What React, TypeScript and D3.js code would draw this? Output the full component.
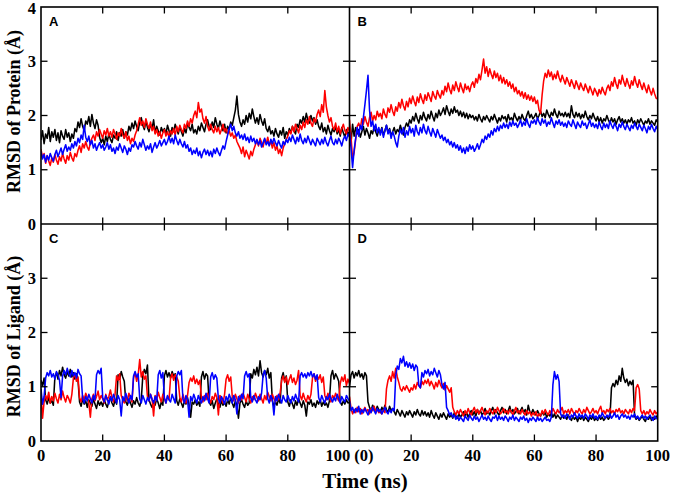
import React from "react";
import * as d3 from "d3";

const timeNs: number[] = d3.range(0, 100.25, 0.5);

const protA_black = [
1.55,1.72,1.48,1.66,1.58,1.78,1.52,1.70,1.60,1.74,
1.54,1.68,1.50,1.72,1.62,1.56,1.74,1.60,1.68,1.52,
1.66,1.58,1.76,1.70,1.88,1.78,1.94,1.80,1.72,1.90,
1.84,1.98,1.80,2.02,1.86,1.76,1.92,1.82,1.60,1.50,
1.58,1.46,1.62,1.52,1.66,1.56,1.50,1.64,1.58,1.70,
1.54,1.68,1.62,1.74,1.58,1.70,1.64,1.80,1.72,1.86,
1.76,1.90,1.80,1.72,1.88,1.96,1.82,1.74,1.90,1.78,
1.70,1.84,1.76,1.92,1.68,1.80,1.72,1.64,1.78,1.70,
1.76,1.66,1.82,1.72,1.62,1.78,1.70,1.84,1.74,1.66,
1.80,1.70,1.62,1.76,1.68,1.86,1.78,1.72,1.84,1.68,
1.74,1.66,1.80,1.72,1.86,1.78,1.70,1.84,1.92,1.80,
1.74,1.88,1.78,1.96,1.84,1.76,1.90,1.80,1.72,1.84,
1.68,1.80,1.74,1.88,1.82,1.96,2.10,2.36,2.02,1.88,
1.80,1.92,1.84,2.00,1.88,2.04,1.94,2.12,1.98,1.86,
1.96,1.84,2.02,1.90,1.82,1.94,1.76,1.70,1.80,1.66,
1.72,1.62,1.76,1.66,1.60,1.72,1.64,1.78,1.58,1.70,
1.64,1.76,1.68,1.80,1.72,1.66,1.84,1.78,1.92,1.86,
1.98,1.88,2.04,1.92,1.86,2.00,1.90,1.96,1.84,1.92,
1.80,1.74,1.86,1.70,1.78,1.66,1.82,1.72,1.64,1.76,
1.70,1.80,1.66,1.74,1.62,1.78,1.68,1.60,1.74,1.66,1.70];
const protA_red = [
1.38,1.22,1.30,1.12,1.26,1.16,1.08,1.22,1.14,1.28,
1.18,1.10,1.24,1.16,1.30,1.20,1.12,1.26,1.18,1.32,
1.22,1.16,1.30,1.24,1.36,1.44,1.32,1.48,1.40,1.52,
1.42,1.36,1.50,1.58,1.64,1.54,1.70,1.62,1.74,1.66,
1.58,1.72,1.64,1.76,1.62,1.70,1.60,1.74,1.66,1.56,
1.68,1.62,1.76,1.64,1.58,1.70,1.54,1.62,1.48,1.58,
1.52,1.64,1.72,1.84,1.96,1.82,1.90,1.78,1.94,1.84,
1.76,1.88,1.72,1.80,1.66,1.74,1.62,1.70,1.58,1.68,
1.74,1.62,1.70,1.60,1.72,1.66,1.76,1.64,1.80,1.70,
1.82,1.74,1.68,1.84,1.76,1.90,1.80,1.94,1.86,2.00,
2.08,1.96,2.24,2.06,2.12,1.94,1.86,1.98,1.80,1.72,
1.84,1.74,1.68,1.80,1.70,1.78,1.66,1.74,1.84,1.70,
1.76,1.66,1.72,1.62,1.68,1.58,1.64,1.52,1.46,1.40,
1.30,1.42,1.24,1.36,1.28,1.20,1.34,1.26,1.38,1.46,
1.54,1.44,1.58,1.50,1.42,1.56,1.48,1.60,1.46,1.52,
1.40,1.50,1.36,1.44,1.30,1.38,1.26,1.40,1.48,1.56,
1.62,1.72,1.66,1.80,1.70,1.84,1.76,1.68,1.82,1.74,
1.88,1.78,1.92,1.84,1.98,1.86,1.80,1.94,1.88,2.02,
2.10,1.98,2.20,2.06,2.46,2.16,2.00,1.88,1.96,1.80,
1.74,1.86,1.70,1.80,1.66,1.76,1.84,1.72,1.66,1.78,1.70];
const protA_blue = [
1.34,1.20,1.28,1.14,1.26,1.18,1.30,1.22,1.16,1.28,
1.36,1.24,1.32,1.40,1.28,1.38,1.46,1.34,1.42,1.36,
1.48,1.40,1.52,1.44,1.58,1.50,1.64,1.56,1.82,1.60,
1.52,1.62,1.46,1.54,1.40,1.48,1.36,1.44,1.50,1.40,
1.46,1.36,1.42,1.50,1.38,1.46,1.34,1.40,1.30,1.42,
1.36,1.48,1.40,1.32,1.44,1.38,1.28,1.40,1.34,1.46,
1.42,1.52,1.44,1.38,1.50,1.42,1.56,1.46,1.36,1.44,
1.38,1.48,1.32,1.42,1.50,1.40,1.46,1.54,1.44,1.50,
1.56,1.46,1.52,1.62,1.50,1.58,1.48,1.64,1.54,1.46,
1.56,1.48,1.42,1.52,1.40,1.46,1.34,1.40,1.28,1.36,
1.30,1.40,1.26,1.34,1.22,1.32,1.38,1.28,1.36,1.26,
1.34,1.24,1.38,1.30,1.40,1.32,1.26,1.36,1.44,1.38,
1.52,1.64,1.76,1.84,1.72,1.80,1.68,1.62,1.70,1.58,
1.64,1.56,1.66,1.54,1.60,1.50,1.62,1.52,1.58,1.48,
1.56,1.46,1.54,1.42,1.50,1.58,1.46,1.52,1.44,1.56,
1.48,1.58,1.50,1.44,1.54,1.46,1.40,1.52,1.46,1.56,
1.50,1.60,1.52,1.64,1.56,1.48,1.60,1.52,1.66,1.54,
1.48,1.58,1.50,1.62,1.54,1.46,1.56,1.50,1.44,1.58,
1.52,1.46,1.56,1.48,1.60,1.50,1.44,1.54,1.62,1.50,
1.46,1.56,1.48,1.58,1.52,1.44,1.56,1.62,1.54,1.66,1.60];

const protB_black = [
1.72,1.50,1.84,1.62,1.78,1.66,1.74,1.60,1.70,1.80,
1.64,1.76,1.68,1.58,1.72,1.66,1.80,1.70,1.62,1.74,
1.68,1.78,1.64,1.72,1.82,1.68,1.76,1.62,1.70,1.78,
1.66,1.74,1.70,1.82,1.72,1.64,1.78,1.86,1.80,1.92,
1.86,1.98,1.90,2.04,1.94,1.86,2.00,1.92,2.06,1.96,
1.90,2.02,1.94,2.08,1.98,1.90,2.04,1.96,2.10,2.00,
2.06,2.14,2.02,2.18,2.08,2.00,2.12,2.04,2.16,2.06,
2.10,2.00,2.08,1.98,2.06,1.96,2.04,1.94,2.02,1.96,
2.00,1.92,1.98,1.90,2.02,1.94,1.88,1.98,1.92,2.00,
1.94,1.88,1.98,1.92,2.02,1.94,1.86,1.96,1.90,2.00,
1.94,1.98,1.88,2.02,1.92,1.96,1.90,2.04,1.96,1.90,
1.98,1.92,2.02,1.94,1.90,2.00,2.08,1.96,2.02,1.94,
1.98,2.04,1.94,2.00,2.08,1.98,2.04,1.96,2.10,2.02,
1.96,2.06,2.00,2.12,2.02,1.96,2.08,2.00,2.04,1.98,
2.06,1.98,2.04,1.96,2.18,2.02,1.96,2.06,1.98,2.04,
1.94,2.02,1.96,2.08,1.98,1.92,2.00,1.94,2.04,1.96,
1.90,1.98,1.88,1.96,1.86,1.94,1.90,2.00,1.92,1.86,
1.96,1.88,1.94,1.84,1.92,1.98,1.88,1.94,1.86,1.92,
1.84,1.92,1.88,1.96,1.86,1.90,1.82,1.92,1.86,1.94,
1.88,1.82,1.90,1.86,1.94,1.84,1.90,1.86,1.82,1.92,1.88];
const protB_red = [
1.92,1.60,1.20,1.32,1.56,1.80,1.86,1.76,1.94,1.84,
1.98,1.88,1.80,1.96,2.06,1.90,2.00,1.92,2.08,1.98,
2.04,1.94,2.12,2.02,1.96,2.14,2.06,2.20,2.08,2.00,
2.16,2.08,2.24,2.14,2.30,2.18,2.10,2.26,2.16,2.32,
2.22,2.36,2.26,2.18,2.34,2.24,2.40,2.30,2.22,2.38,
2.28,2.42,2.34,2.26,2.44,2.36,2.30,2.46,2.38,2.32,
2.46,2.38,2.54,2.44,2.60,2.48,2.40,2.56,2.46,2.62,
2.52,2.44,2.60,2.50,2.42,2.58,2.48,2.54,2.44,2.56,
2.62,2.52,2.68,2.60,2.76,2.66,2.84,3.04,2.78,2.90,
2.72,2.86,2.76,2.68,2.82,2.70,2.78,2.64,2.74,2.60,
2.70,2.58,2.66,2.54,2.62,2.50,2.58,2.44,2.52,2.40,
2.46,2.36,2.44,2.32,2.42,2.30,2.38,2.28,2.36,2.26,
2.34,2.22,2.28,2.10,2.04,2.38,2.64,2.78,2.70,2.84,
2.72,2.80,2.66,2.76,2.68,2.82,2.70,2.62,2.74,2.66,
2.58,2.70,2.62,2.54,2.66,2.58,2.50,2.64,2.56,2.48,
2.60,2.52,2.46,2.58,2.50,2.42,2.54,2.46,2.38,2.50,
2.44,2.36,2.48,2.40,2.52,2.44,2.38,2.50,2.56,2.46,
2.62,2.54,2.70,2.58,2.50,2.66,2.58,2.74,2.62,2.54,
2.68,2.58,2.50,2.64,2.56,2.72,2.60,2.52,2.66,2.56,
2.48,2.60,2.50,2.42,2.56,2.46,2.38,2.50,2.40,2.32,2.30];
const protB_blue = [
1.70,1.40,1.04,1.36,1.58,1.78,1.62,1.82,1.74,1.96,
2.20,2.46,2.74,2.10,1.80,1.90,1.72,1.84,1.68,1.78,
1.64,1.76,1.60,1.72,1.82,1.66,1.74,1.58,1.70,1.62,
1.50,1.42,1.62,1.74,1.66,1.78,1.60,1.72,1.64,1.80,
1.68,1.76,1.62,1.82,1.70,1.64,1.78,1.68,1.84,1.72,
1.66,1.80,1.70,1.62,1.76,1.68,1.60,1.74,1.66,1.58,
1.64,1.54,1.60,1.50,1.56,1.46,1.52,1.42,1.50,1.40,
1.46,1.36,1.44,1.32,1.40,1.30,1.42,1.34,1.46,1.38,
1.44,1.34,1.40,1.48,1.38,1.46,1.56,1.50,1.62,1.56,
1.66,1.60,1.72,1.64,1.76,1.70,1.80,1.72,1.82,1.76,
1.86,1.78,1.84,1.76,1.88,1.80,1.90,1.82,1.86,1.78,
1.84,1.92,1.80,1.88,1.82,1.94,1.84,1.78,1.90,1.86,
1.92,1.84,1.96,1.88,1.82,1.94,1.86,1.92,1.80,1.88,
1.84,1.96,1.86,1.78,1.90,1.84,1.92,1.82,1.88,1.80,
1.86,1.78,1.90,1.84,1.80,1.92,1.84,1.76,1.88,1.82,
1.78,1.90,1.82,1.86,1.76,1.84,1.92,1.80,1.86,1.78,
1.84,1.76,1.88,1.80,1.74,1.86,1.78,1.84,1.76,1.90,
1.82,1.76,1.86,1.80,1.72,1.84,1.78,1.88,1.80,1.74,
1.84,1.78,1.72,1.82,1.76,1.86,1.80,1.74,1.84,1.78,
1.72,1.82,1.76,1.68,1.80,1.74,1.84,1.76,1.70,1.80,1.74];

const ligC_black = [
1.12,1.02,1.16,0.76,0.68,0.80,0.70,0.74,0.66,1.18,
1.26,1.14,1.30,1.20,1.36,1.22,1.16,1.28,1.20,1.32,
1.18,1.26,1.14,1.24,1.12,0.72,0.64,0.78,0.68,0.74,
0.62,0.76,0.70,0.64,0.78,0.68,0.60,0.74,0.66,0.72,
0.64,0.76,0.68,0.62,0.74,0.80,0.70,0.64,0.76,0.68,
1.22,1.14,1.28,1.18,1.10,0.72,0.66,0.78,0.70,0.62,
0.74,0.68,0.80,0.70,0.64,0.76,1.20,1.32,1.24,1.40,
0.76,0.68,0.62,0.74,0.66,0.78,0.70,0.60,0.72,0.66,
1.20,1.30,1.18,1.26,1.16,1.28,1.20,1.24,0.74,0.66,
0.78,0.70,0.62,0.74,0.68,0.80,0.66,0.44,0.72,0.68,
0.76,0.66,0.72,0.64,1.18,1.28,1.14,1.24,1.20,0.72,
0.66,0.74,0.60,0.70,0.78,0.68,0.62,0.74,0.66,0.72,
0.64,0.76,0.68,0.80,0.70,0.62,0.74,0.66,0.42,0.70,
0.76,0.68,0.62,0.74,0.66,0.70,1.24,1.16,1.32,1.22,
1.36,1.20,1.48,1.26,1.18,1.30,1.22,1.34,1.16,1.26,
0.74,0.64,0.72,0.66,0.78,0.70,1.16,1.26,1.10,1.20,
0.72,0.64,0.76,0.68,0.60,0.74,0.66,0.78,0.70,0.62,
0.74,0.66,0.46,0.72,0.68,0.76,0.64,0.70,0.62,0.74,
0.68,0.76,0.64,0.72,0.66,0.70,0.62,0.74,1.20,1.30,
1.14,1.24,1.18,1.10,0.72,0.66,0.74,0.68,0.76,0.70,0.72];
const ligC_red = [
0.88,0.42,0.72,0.84,0.76,0.90,0.70,0.82,0.74,0.88,
0.78,0.70,0.86,0.76,0.92,0.80,0.72,0.84,0.78,0.70,
0.86,1.16,1.24,1.10,1.18,0.80,0.72,0.84,0.76,0.88,
0.80,0.70,0.44,0.78,0.86,0.74,0.82,0.92,0.76,0.84,
0.78,0.70,0.86,0.76,0.82,0.94,0.80,0.72,0.86,1.20,
1.12,1.24,0.84,0.76,0.70,0.82,0.74,0.88,0.80,0.72,
1.16,1.26,1.10,1.22,1.50,1.18,1.28,1.14,1.20,0.82,
0.74,0.86,0.78,0.46,0.84,0.76,0.90,0.80,0.72,0.86,
0.78,0.70,0.82,0.76,1.16,1.24,1.12,1.22,1.18,1.10,
0.80,0.72,0.86,0.76,0.70,0.84,1.08,1.16,1.10,1.20,
1.06,1.14,1.04,1.12,0.80,0.72,0.84,0.76,0.88,0.78,
0.70,0.82,0.76,0.88,0.80,0.48,0.84,0.78,0.70,0.86,
1.14,1.22,1.10,1.18,0.82,0.74,0.86,0.78,0.70,0.84,
0.76,0.88,0.80,0.72,0.86,0.78,0.70,0.82,0.76,0.88,
0.80,0.74,0.86,0.78,0.70,0.84,0.76,0.90,0.82,0.74,
0.86,0.78,0.72,0.84,0.76,0.88,1.12,1.20,1.08,1.18,
1.04,1.14,1.22,1.08,1.16,1.04,1.12,1.30,0.84,0.76,
0.88,0.78,0.72,0.84,0.76,0.86,1.16,1.24,1.10,1.20,
1.14,1.22,1.08,1.18,0.84,0.76,0.88,0.80,0.72,0.84,
0.78,0.88,0.80,0.74,1.06,1.18,1.10,1.22,1.02,1.14,1.06];
const ligC_blue = [
0.96,0.68,0.82,1.16,1.26,1.20,1.30,1.18,1.24,1.14,
1.28,1.22,1.12,0.80,1.20,1.30,1.22,1.34,1.24,1.18,
1.30,1.20,1.26,1.16,1.32,1.24,1.20,0.78,0.70,0.82,
0.74,0.86,0.78,0.70,0.84,0.76,1.22,1.30,1.24,1.34,
0.80,0.72,0.84,0.76,0.68,0.82,0.74,0.86,0.78,0.70,
0.84,0.76,0.46,0.82,0.74,0.88,0.78,0.70,0.84,0.76,
1.20,1.28,1.18,1.24,0.78,0.70,0.84,0.76,0.68,0.80,
0.74,0.86,0.76,0.70,0.82,0.74,1.22,1.30,1.16,1.26,
0.80,0.70,0.84,0.76,0.72,0.86,0.78,0.70,1.20,1.28,
1.22,1.30,0.78,0.70,0.84,0.76,0.44,0.82,0.74,0.86,
0.78,0.70,0.84,0.76,0.70,0.82,0.74,0.88,0.78,0.70,
1.18,1.26,1.14,1.22,1.16,0.78,0.70,0.82,0.76,0.68,
0.82,0.74,0.86,0.78,0.70,0.84,0.76,0.50,0.82,0.74,
0.86,0.78,1.20,1.28,1.18,1.24,0.80,0.72,0.84,0.76,
0.70,0.82,0.76,0.88,1.22,1.30,1.16,0.78,0.70,0.84,
0.76,0.48,0.82,0.74,0.86,0.78,0.70,0.84,0.76,0.72,
0.84,0.76,0.70,0.82,0.74,0.86,0.78,0.72,1.20,1.26,
1.18,1.24,1.16,1.26,1.20,1.28,1.18,1.24,1.14,1.22,
0.80,0.72,0.84,0.76,0.70,0.82,0.76,0.86,0.78,0.72,
0.80,0.74,0.86,0.78,0.70,0.82,0.76,0.72,0.84,0.78,0.74];

const ligD_black = [
1.00,1.22,1.28,1.16,1.26,1.20,1.30,1.18,1.24,1.14,
1.26,1.20,0.72,0.62,0.56,0.66,0.60,0.54,0.64,0.58,
0.52,0.62,0.56,0.66,0.58,0.52,0.64,0.56,0.60,0.54,
0.48,0.58,0.52,0.46,0.56,0.50,0.44,0.54,0.48,0.56,
0.50,0.44,0.54,0.48,0.58,0.50,0.46,0.56,0.48,0.54,
0.46,0.52,0.44,0.56,0.48,0.42,0.52,0.46,0.40,0.50,
0.44,0.52,0.46,0.40,0.50,0.44,0.48,0.42,0.52,0.46,
0.42,0.50,0.44,0.48,0.54,0.46,0.52,0.44,0.50,0.56,
0.48,0.54,0.46,0.58,0.50,0.56,0.48,0.52,0.60,0.50,
0.54,0.48,0.56,0.62,0.50,0.58,0.52,0.48,0.56,0.62,
0.52,0.58,0.50,0.56,0.64,0.52,0.58,0.50,0.54,0.60,
0.50,0.56,0.62,0.52,0.58,0.48,0.66,0.54,0.50,0.58,
0.52,0.48,0.56,0.50,0.46,0.54,0.48,0.52,0.44,0.50,
0.46,0.52,0.44,0.50,0.42,0.48,0.44,0.40,0.48,0.42,
0.46,0.40,0.48,0.42,0.38,0.46,0.40,0.44,0.36,0.44,
0.40,0.46,0.38,0.44,0.40,0.36,0.44,0.40,0.46,0.38,
0.42,0.38,0.46,0.40,0.44,0.38,0.42,0.46,0.40,0.44,
0.98,1.06,1.00,1.12,1.04,1.20,1.10,1.34,1.16,1.08,
1.14,1.02,1.10,1.04,1.12,0.46,0.40,0.44,0.38,0.42,
0.46,0.40,0.36,0.44,0.40,0.46,0.38,0.44,0.40,0.46,0.42];
const ligD_red = [
0.82,0.60,0.50,0.58,0.52,0.62,0.54,0.60,0.50,0.56,
0.62,0.54,0.58,0.50,0.60,0.56,0.64,0.54,0.58,0.52,
0.56,0.50,0.58,0.52,0.96,1.12,1.20,1.10,1.28,1.16,
1.34,1.18,1.08,0.96,0.92,1.00,0.94,1.02,0.96,0.90,
0.98,0.94,1.04,0.96,1.08,1.02,0.98,1.10,1.04,1.12,
1.06,1.14,1.02,1.10,1.04,0.96,1.08,1.00,1.12,1.04,
0.98,1.06,0.94,1.02,0.96,0.90,0.98,0.62,0.54,0.48,
0.56,0.50,0.58,0.52,0.46,0.56,0.50,0.60,0.52,0.48,
0.56,0.62,0.52,0.58,0.50,0.56,0.62,0.54,0.48,0.56,
0.52,0.60,0.54,0.50,0.58,0.52,0.62,0.56,0.50,0.54,
0.60,0.52,0.56,0.50,0.58,0.54,0.48,0.56,0.62,0.52,
0.56,0.50,0.58,0.52,0.48,0.56,0.50,0.54,0.46,0.52,
0.48,0.54,0.44,0.50,0.46,0.56,0.50,0.58,0.52,0.48,
0.56,0.50,0.60,0.54,0.50,0.58,0.52,0.56,0.62,0.50,
0.56,0.52,0.58,0.50,0.60,0.54,0.48,0.56,0.52,0.60,
0.54,0.50,0.58,0.52,0.62,0.56,0.50,0.54,0.60,0.52,
0.56,0.50,0.58,0.64,0.52,0.56,0.50,0.58,0.54,0.60,
0.52,0.56,0.50,0.58,0.54,0.60,0.52,0.56,0.50,0.58,
0.54,0.50,0.58,0.52,0.60,0.56,0.98,1.04,0.96,0.56,
0.50,0.56,0.48,0.54,0.50,0.58,0.52,0.48,0.56,0.50,0.54];
const ligD_blue = [
0.74,0.56,0.62,0.52,0.60,0.54,0.64,0.50,0.58,0.52,
0.60,0.54,0.48,0.58,0.52,0.62,0.56,0.50,0.60,0.54,
0.58,0.50,0.56,0.62,0.54,0.50,0.58,0.52,0.60,0.56,
1.20,1.38,1.32,1.52,1.44,1.56,1.38,1.46,1.36,1.44,
1.34,1.42,1.30,1.40,1.36,1.02,0.98,1.26,1.18,1.30,
1.24,1.32,1.20,1.28,1.22,1.34,1.26,1.18,1.30,1.22,
1.04,0.96,1.08,0.62,0.56,0.48,0.52,0.44,0.48,0.40,
0.46,0.38,0.44,0.40,0.36,0.46,0.42,0.38,0.48,0.42,
0.38,0.46,0.40,0.44,0.36,0.42,0.48,0.40,0.44,0.38,
0.46,0.40,0.36,0.44,0.42,0.48,0.38,0.46,0.40,0.44,
0.38,0.46,0.42,0.36,0.44,0.40,0.48,0.38,0.44,0.40,
0.36,0.44,0.40,0.46,0.38,0.42,0.34,0.42,0.38,0.44,
0.40,0.36,0.44,0.38,0.42,0.36,0.40,0.44,0.38,0.40,
0.36,0.44,1.04,1.28,1.14,1.22,1.10,0.50,0.44,0.48,
0.42,0.50,0.46,0.40,0.48,0.44,0.52,0.46,0.42,0.50,
0.44,0.48,0.42,0.50,0.46,0.40,0.48,0.44,0.50,0.42,
0.46,0.40,0.48,0.44,0.52,0.46,0.42,0.48,0.44,0.50,
0.42,0.46,0.52,0.44,0.48,0.40,0.46,0.50,0.44,0.48,
0.42,0.46,0.40,0.48,0.44,0.50,0.42,0.46,0.40,0.44,
0.48,0.42,0.46,0.40,0.44,0.48,0.42,0.38,0.46,0.42,0.40];

const seriesColors = ["#000000", "#ff0000", "#0000ff"];
const panelLetters = ["A", "B", "C", "D"];
const yTicksTop = [0, 1, 2, 3, 4];
const yTicksBottom = [0, 1, 2, 3];
const xTickLabelsLeft = ["0", "20", "40", "60", "80"];
const xTickValuesLeft = [0, 20, 40, 60, 80];
const xTickLabelsRight = ["20", "40", "60", "80", "100"];
const xTickValuesRight = [20, 40, 60, 80, 100];
const midLabel = "100 (0)";
const yTitleTop = "RMSD of Protein (Å)";
const yTitleBottom = "RMSD of Ligand (Å)";
const xTitle = "Time (ns)";

const panelsData = [
  [protA_black, protA_red, protA_blue],
  [protB_black, protB_red, protB_blue],
  [ligC_black, ligC_red, ligC_blue],
  [ligD_black, ligD_red, ligD_blue],
];

const L = 41, M = 349.5, R = 657.7, T = 7, MY = 224, B = 441;
const serif = "'Liberation Serif', 'Times New Roman', serif";
const sans = "'Liberation Sans', Arial, sans-serif";

export default function App() {
  const xs = [d3.scaleLinear().domain([0, 100]).range([L, M]), d3.scaleLinear().domain([0, 100]).range([M, R])];
  const ys = [d3.scaleLinear().domain([0, 4]).range([MY, T]), d3.scaleLinear().domain([0, 4]).range([B, MY])];
  const tl = 6.5;

  return (
    <svg width={673} height={495} style={{ position: "absolute", left: 0, top: 0, background: "#fff" }}>
      <defs>
        {[0, 1, 2, 3].map((i) => {
          const x = xs[i % 2], y = ys[Math.floor(i / 2)];
          return (
            <clipPath id={`clip${i}`} key={i}>
              <rect x={x.range()[0]} y={y.range()[1]} width={x.range()[1] - x.range()[0]} height={y.range()[0] - y.range()[1]} />
            </clipPath>
          );
        })}
      </defs>
      {panelsData.map((series, i) => {
        const x = xs[i % 2], y = ys[Math.floor(i / 2)];
        const line = d3.line<number>().x((_, k) => x(timeNs[k])).y((v) => y(v));
        return (
          <g key={i} clipPath={`url(#clip${i})`}>
            {series.map((s, j) => (
              <path key={j} d={line(s) || ""} fill="none" stroke={seriesColors[j]} strokeWidth={1.55} strokeLinejoin="round" />
            ))}
          </g>
        );
      })}
      {[0, 1, 2, 3].map((i) => {
        const x = xs[i % 2], y = ys[Math.floor(i / 2)];
        const [x0, x1] = x.range();
        const [y0, y1] = y.range();
        return (
          <g key={i} stroke="#000" strokeWidth={1.3}>
            {[20, 40, 60, 80].map((t) => (
              <g key={t}>
                <line x1={x(t)} x2={x(t)} y1={y0} y2={y0 - tl} />
                <line x1={x(t)} x2={x(t)} y1={y1} y2={y1 + tl} />
              </g>
            ))}
            {[1, 2, 3].map((t) => (
              <g key={t}>
                <line x1={x0} x2={x0 + tl} y1={y(t)} y2={y(t)} />
                <line x1={x1} x2={x1 - tl} y1={y(t)} y2={y(t)} />
              </g>
            ))}
          </g>
        );
      })}
      <g fill="none" stroke="#000" strokeWidth={1.6}>
        <rect x={L} y={T} width={R - L} height={B - T} />
        <line x1={M} x2={M} y1={T} y2={B} />
        <line x1={L} x2={R} y1={MY} y2={MY} />
      </g>
      {panelLetters.map((p, i) => (
        <text key={p} x={xs[i % 2].range()[0] + 8} y={ys[Math.floor(i / 2)].range()[1] + 19} fontFamily={sans} fontWeight="bold" fontSize={13}>
          {p}
        </text>
      ))}
      <g fontFamily={serif} fontWeight="bold" fontSize={16.5} textAnchor="end">
        {yTicksTop.map((t) => (
          <text key={`t${t}`} x={L - 5} y={Math.max(ys[0](t) + 5.5, 14)}>{t}</text>
        ))}
        {yTicksBottom.map((t) => (
          <text key={`b${t}`} x={L - 5} y={ys[1](t) + 5.5}>{t}</text>
        ))}
      </g>
      <g fontFamily={serif} fontWeight="bold" fontSize={16.5} textAnchor="middle">
        {xTickValuesLeft.map((t, k) => (
          <text key={`l${t}`} x={xs[0](t)} y={461}>{xTickLabelsLeft[k]}</text>
        ))}
        <text x={M} y={461}>{midLabel}</text>
        {xTickValuesRight.map((t, k) => (
          <text key={`r${t}`} x={xs[1](t)} y={461}>{xTickLabelsRight[k]}</text>
        ))}
      </g>
      <text x={365} y={488} fontFamily={serif} fontWeight="bold" fontSize={21} textAnchor="middle">{xTitle}</text>
      <text transform={`translate(20,${(T + MY) / 2 - 4}) rotate(-90)`} fontFamily={serif} fontWeight="bold" fontSize={18} textAnchor="middle">{yTitleTop}</text>
      <text transform={`translate(20,${(MY + B) / 2 + 4}) rotate(-90)`} fontFamily={serif} fontWeight="bold" fontSize={18} textAnchor="middle">{yTitleBottom}</text>
    </svg>
  );
}
